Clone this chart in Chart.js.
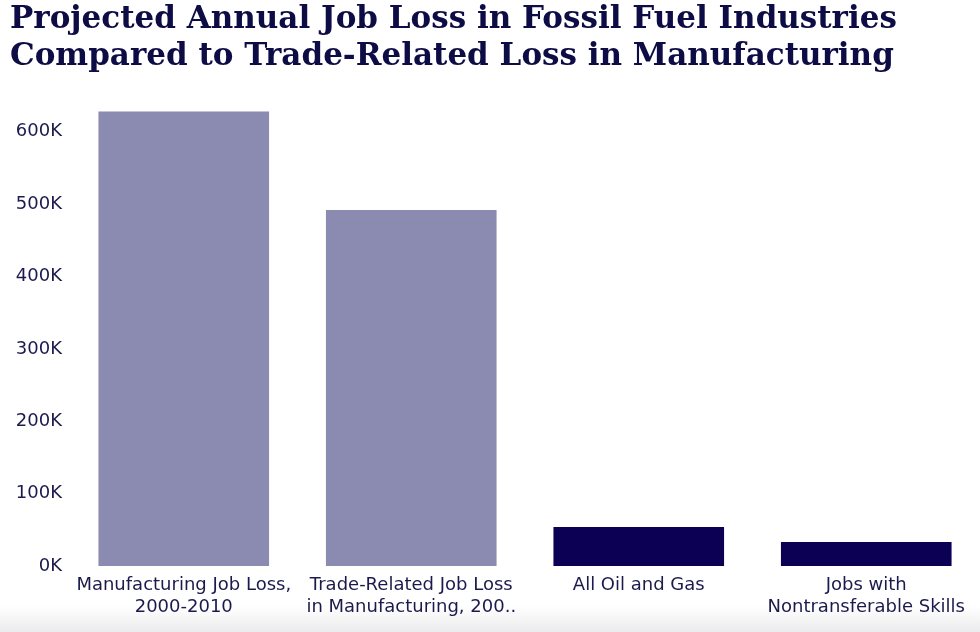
<!DOCTYPE html>
<html>
<head>
<meta charset="utf-8">
<script src="https://cdn.jsdelivr.net/npm/chart.js@4"></script>
<style>
  html, body { margin: 0; padding: 0; background: #fff; }
  #wrap { position: relative; width: 980px; height: 632px;
          background: linear-gradient(to bottom, #fff 0px, #fff 606px, #ebebed 632px); }
</style>
</head>
<body>
<div id="wrap"><canvas id="jobChart" width="980" height="632"></canvas></div>
<script>
// ==== Dữ liệu ====
const categories = [
    ["Manufacturing Job Loss,", "2000-2010"],
    ["Trade-Related Job Loss", "in Manufacturing, 200.."],
    ["All Oil and Gas"],
    ["Jobs with", "Nontransferable Skills"],
];
const jobLoss = [628000, 492000, 54000, 33000];
const barColors = ["#8b8ab0", "#8b8ab0", "#0c0055", "#0c0055"];
const yTicks = [0, 100000, 200000, 300000, 400000, 500000, 600000];
const titleLines = [
    "Projected Annual Job Loss in Fossil Fuel Industries",
    "Compared to Trade-Related Loss in Manufacturing",
];

const textColor = "#1b1a4d";

const ctx = document.getElementById("jobChart").getContext("2d");
new Chart(ctx, {
    type: "bar",
    data: {
        labels: categories,
        datasets: [
            {
                data: jobLoss,
                backgroundColor: barColors,
                barPercentage: 0.75,
                categoryPercentage: 1,
            },
        ],
    },
    options: {
        responsive: false,
        animation: false,
        // lề trái 10px để tiêu đề bắt đầu ở x=10
        layout: { padding: { left: 10, right: 0, top: 0, bottom: 0 } },
        plugins: {
            legend: { display: false },
            tooltip: { enabled: false },
            title: {
                display: true,
                text: titleLines,
                align: "start",
                color: "#0d0c45",
                font: { family: "DejaVu Serif", weight: "bold", size: 31, lineHeight: 1.19 },
                padding: { top: 2, bottom: 27 },
            },
        },
        scales: {
            x: {
                grid: { display: false, drawTicks: false },
                border: { display: false },
                ticks: {
                    color: textColor,
                    font: { family: "DejaVu Sans", size: 18, lineHeight: 1.22 },
                    padding: 8,
                    maxRotation: 0,
                    autoSkip: false,
                },
                afterFit: (axis) => { axis.height = 66; },
            },
            y: {
                min: 0,
                max: 640000,
                grid: { display: false, drawTicks: false },
                border: { display: false },
                ticks: {
                    color: textColor,
                    font: { family: "DejaVu Sans", size: 18 },
                    padding: 8,
                    stepSize: 100000,
                    callback: (v) => v / 1000 + "K",
                },
                afterBuildTicks: (axis) => {
                    axis.ticks = yTicks.map((v) => ({ value: v }));
                },
                afterFit: (axis) => { axis.width = 60; },
            },
        },
    },
});
</script>
</body>
</html>
